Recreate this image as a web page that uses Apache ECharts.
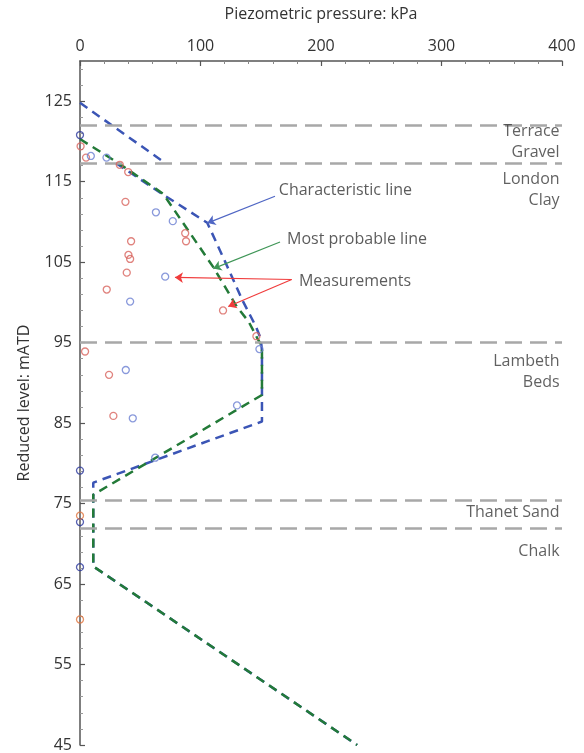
<!DOCTYPE html>
<html>
<head>
<meta charset="utf-8">
<script src="https://cdn.jsdelivr.net/npm/echarts@6/dist/echarts.min.js"></script>
<style>html,body{margin:0;padding:0;background:#fff;}#c{width:584px;height:753px;}</style>
</head>
<body>
<div id="c"></div>
<script>
// x: piezometric pressure (kPa), y: reduced level (mATD)
var xTicks = [0, 100, 200, 300, 400];
var yTicks = [45, 55, 65, 75, 85, 95, 105, 115, 125];
var layerBoundaries = [122, 117.3, 95, 75.4, 71.9];
var layerLabels = [
  [398, 119.9, 'Terrace\nGravel'],
  [398, 114.0, 'London\nClay'],
  [398, 91.4, 'Lambeth\nBeds'],
  [398, 73.85, 'Thanet Sand'],
  [398, 69.1, 'Chalk']
];
var charTop = [[0, 124.8], [71, 117.3]];
var charMain = [[30, 117.3], [69, 113.4], [105.6, 109.9], [120, 105.2], [135, 100.2], [146, 97], [150, 95.5], [151, 94], [151, 85.2], [11, 77.6], [11, 67.2], [230, 45]];
var mostProbable = [[0, 120.3], [33, 117.2], [69, 113.5], [111, 104.3], [130, 99.5], [140, 97.6], [147, 95.6], [151, 94.5], [151, 88.5], [11, 76.1], [11, 67.2], [230, 45]];
var measRed = [[0.5,119.4],[5,118.0],[33,117.1],[40,116.2],[37.7,112.5],[87.3,108.6],[88,107.6],[42.4,107.6],[40.2,105.9],[41.6,105.4],[38.8,103.7],[22.2,101.6],[118.7,99.0],[146.4,95.8],[4.2,93.9],[24.1,91.0],[27.7,85.9]];
var measBlue = [[9,118.2],[22,118.0],[63,111.2],[77,110.1],[70.7,103.2],[41.6,100.1],[148.9,94.2],[38,91.6],[130.3,87.2],[43.8,85.6],[62.4,80.7]];
var measDarkBlue = [[0,120.8],[0,79.1],[0,72.7],[0,67.1]];
var measOrange = [[0,73.5],[0,60.6]];
var annotations = [
  [165, 113.9, 'Characteristic line'],
  [171.8, 107.8, 'Most probable line'],
  [181.7, 102.6, 'Measurements']
];
var arrowsBlue = [[[161.8, 113.2], [105.6, 109.86]]];
var arrowsGreen = [[[166, 107.5], [110.6, 104.2]]];
var arrowsRed = [[[175.7, 102.85], [78.8, 103.1]], [[175.7, 102.85], [123, 99.5]]];

var yMinor = [];
yTicks.forEach(function (m) { [2, 4, 6, 8].forEach(function (d) { if (m + d <= 130) yMinor.push(m + d); }); });

var FONT = 'Open Sans';
var chart = echarts.init(document.getElementById('c'), null, {renderer: 'canvas'});
function circles(data, color) {
  return {
    type: 'scatter', data: data, symbol: 'circle', symbolSize: 7,
    itemStyle: {color: 'rgba(255,255,255,0)', borderColor: color, borderWidth: 1.3},
    z: 5, silent: true
  };
}
function arrows(data, color) {
  return {
    type: 'lines', coordinateSystem: 'cartesian2d', polyline: false,
    data: data.map(function (c) { return {coords: c}; }),
    symbol: ['none', 'arrow'], symbolSize: [0, 8],
    lineStyle: {color: color, width: 1.2, opacity: 1, curveness: 0},
    z: 6, silent: true
  };
}
chart.setOption({
  animation: false,
  backgroundColor: '#fff',
  grid: {left: 80, right: 22, top: 61, bottom: 7},
  xAxis: {
    type: 'value', position: 'top', min: 0, max: 400, interval: 100,
    name: 'Piezometric pressure: kPa', nameLocation: 'middle', nameGap: 39,
    nameTextStyle: {color: '#333', fontSize: 16, fontFamily: FONT},
    axisLine: {show: true, lineStyle: {color: '#555', width: 1.5}},
    axisTick: {show: true, inside: true, length: 5, lineStyle: {color: '#555', width: 1.2}},
    minorTick: {show: true, splitNumber: 5, length: 3, lineStyle: {color: '#888', width: 1}},
    axisLabel: {color: '#333', fontSize: 16, fontFamily: FONT, margin: 7},
    splitLine: {show: false}
  },
  yAxis: [{
    type: 'value', min: 45, max: 130,
    name: 'Reduced level: mATD', nameLocation: 'middle', nameGap: 48,
    nameTextStyle: {color: '#333', fontSize: 16, fontFamily: FONT},
    axisLine: {show: true, lineStyle: {color: '#555', width: 1.5}},
    axisTick: {show: true, inside: true, length: 5, customValues: yTicks, lineStyle: {color: '#555', width: 1.2}},
    axisLabel: {color: '#333', fontSize: 16, fontFamily: FONT, margin: 8, customValues: yTicks},
    splitLine: {show: false}
  }, {
    type: 'value', min: 45, max: 130, position: 'left',
    axisLine: {show: false},
    axisTick: {show: true, inside: true, length: 3, customValues: yMinor, lineStyle: {color: '#999', width: 1}},
    axisLabel: {show: false, customValues: yMinor},
    splitLine: {show: false}
  }],
  series: [
    {
      type: 'line', data: [], silent: true,
      markLine: {
        silent: true, symbol: ['none', 'none'], label: {show: false},
        lineStyle: {color: '#a8a8a8', width: 2.5, type: [17, 8]},
        data: layerBoundaries.map(function (v) { return {yAxis: v}; })
      }
    },
    {
      type: 'line', data: charTop, showSymbol: false, symbol: 'none', z: 3, silent: true,
      lineStyle: {color: '#3b55b5', width: 2.5, type: [9, 6]}
    },
    {
      type: 'line', data: charMain, showSymbol: false, symbol: 'none', z: 3, silent: true,
      lineStyle: {color: '#3b55b5', width: 2.5, type: [9, 6]}
    },
    {
      type: 'line', data: mostProbable, showSymbol: false, symbol: 'none', z: 4, silent: true,
      lineStyle: {color: '#237a38', width: 2.5, type: [9, 6]}
    },
    circles(measRed, '#d8645e'),
    circles(measBlue, '#6b80d2'),
    circles(measDarkBlue, '#2d3a9e'),
    circles(measOrange, '#e0763e'),
    arrows(arrowsBlue, '#4f66c4'),
    arrows(arrowsGreen, '#3f9657'),
    arrows(arrowsRed, '#f03c3c'),
    {
      type: 'scatter', symbolSize: 0, silent: true, z: 7,
      data: layerLabels.map(function (d) { return {value: [d[0], d[1]], name: d[2]}; }),
      label: {show: true, position: 'left', distance: 0, align: 'right', verticalAlign: 'middle',
        formatter: function (p) { return p.name; }, color: '#3a3a3a', fontSize: 16, lineHeight: 21, fontFamily: FONT}
    },
    {
      type: 'scatter', symbolSize: 0, silent: true, z: 7,
      data: annotations.map(function (d) { return {value: [d[0], d[1]], name: d[2]}; }),
      label: {show: true, position: 'right', distance: 0, align: 'left', verticalAlign: 'middle',
        formatter: function (p) { return p.name; }, color: '#333', fontSize: 16, fontFamily: FONT}
    }
  ]
});
</script>
</body>
</html>
